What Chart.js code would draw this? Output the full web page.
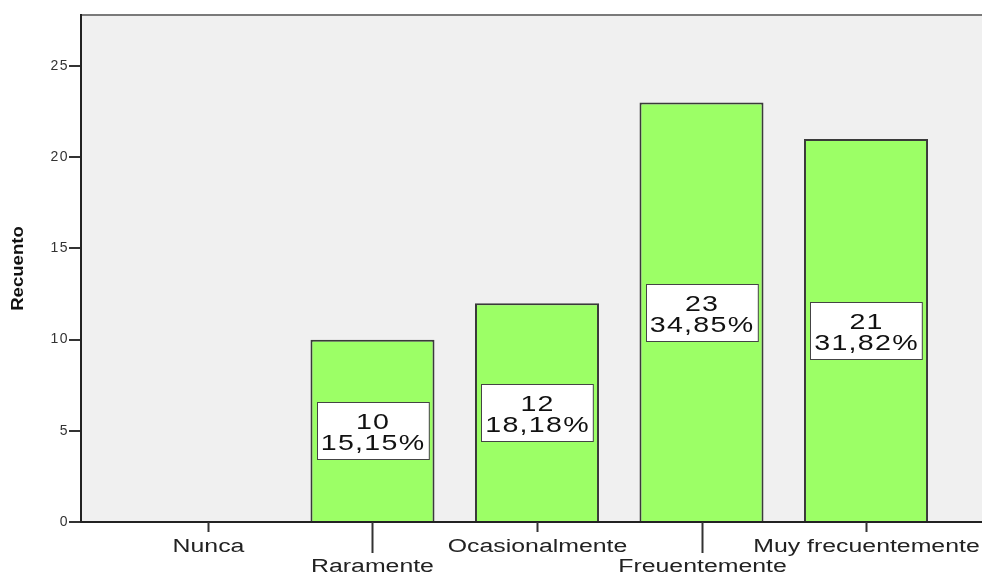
<!DOCTYPE html>
<html>
<head>
<meta charset="utf-8">
<script src="https://cdn.jsdelivr.net/npm/chart.js@4"></script>
<style>
  html, body { margin: 0; padding: 0; background: #fff; overflow: hidden; }
  #wrap { width: 1000px; height: 575px; }
</style>
</head>
<body>
<div id="wrap"><canvas id="myChart" width="1000" height="575"></canvas></div>
<script>
const categories = ['Nunca', 'Raramente', 'Ocasionalmente', 'Freuentemente', 'Muy frecuentemente'];
const counts = [0, 10, 12, 23, 21];
const yTicks = [0, 5, 10, 15, 20, 25];
const yTitle = 'Recuento';

const total = counts.reduce((a, b) => a + b, 0);
const pct = v => (v / total * 100).toFixed(2).replace('.', ',') + '%';
const FONT = '"Liberation Sans", Arial, sans-serif';

// SPSS-ish text: horizontally stretched Arial
function wideText(ctx, text, x, y, sx) {
    ctx.save();
    ctx.translate(x, y);
    ctx.scale(sx, 1);
    ctx.fillText(text, 0, 0);
    ctx.restore();
}

const decor = {
    id: 'decor',
    beforeDraw(chart) {
        const {ctx, chartArea: a} = chart;
        ctx.save();
        ctx.fillStyle = '#f0f0f0';
        ctx.fillRect(a.left, a.top, a.right - a.left, a.bottom - a.top);
        ctx.strokeStyle = '#7a7a7a';
        ctx.lineWidth = 2;
        ctx.beginPath();
        ctx.moveTo(a.left, a.top);
        ctx.lineTo(a.right, a.top);
        ctx.stroke();
        ctx.restore();
        ctx.letterSpacing = '1.5px';
    },
    afterDraw(chart) {
        const {ctx, chartArea: a} = chart;
        const xs = chart.scales.x, ys = chart.scales.y;
        ctx.save();
        ctx.letterSpacing = '0px';

        // x ticks + staggered labels
        ctx.strokeStyle = '#333';
        ctx.lineWidth = 2;
        ctx.fillStyle = '#222';
        ctx.font = '18px ' + FONT;
        ctx.textAlign = 'center';
        ctx.textBaseline = 'alphabetic';
        categories.forEach((c, i) => {
            const x = Math.round(xs.getPixelForValue(i)) + 0.5;
            const low = i % 2 === 1;
            ctx.beginPath();
            ctx.moveTo(x, a.bottom);
            ctx.lineTo(x, a.bottom + (low ? 31 : 10));
            ctx.stroke();
            wideText(ctx, c, x, low ? 572 : 552, 1.38);
        });

        // y title
        ctx.save();
        ctx.translate(19, (a.top + a.bottom) / 2);
        ctx.rotate(-Math.PI / 2);
        ctx.font = 'bold 16px ' + FONT;
        ctx.fillStyle = '#111';
        ctx.textBaseline = 'middle';
        wideText(ctx, yTitle, 0, 0, 1.16);
        ctx.restore();

        // value boxes
        const meta = chart.getDatasetMeta(0);
        ctx.font = '22px ' + FONT;
        ctx.letterSpacing = '1px';
        const sx = 1.3;
        counts.forEach((v, i) => {
            if (!v) return;
            const bar = meta.data[i];
            const cy = ys.getPixelForValue(v / 2);
            const l1 = String(v), l2 = pct(v);
            const w = Math.max(ctx.measureText(l1).width, ctx.measureText(l2).width) * sx + 7;
            const h = 57;
            const bx = Math.round(bar.x - w / 2) + 0.5, by = Math.round(cy - h / 2) + 0.5;
            ctx.fillStyle = '#fff';
            ctx.fillRect(bx, by, w, h);
            ctx.strokeStyle = '#444';
            ctx.lineWidth = 1;
            ctx.strokeRect(bx, by, w, h);
            ctx.fillStyle = '#111';
            wideText(ctx, l1, bar.x + 0.6, cy - 1.5, sx);
            wideText(ctx, l2, bar.x + 0.6, cy + 19.5, sx);
        });
        ctx.restore();
    }
};

const ctx = document.getElementById('myChart').getContext('2d');
new Chart(ctx, {
    type: 'bar',
    data: {
        datasets: [{
            data: counts.map((v, i) => ({x: i, y: v})),
            backgroundColor: '#9cff66',
            borderColor: '#3a3a3a',
            borderWidth: 2,
            categoryPercentage: 1,
            barPercentage: 0.754
        }]
    },
    options: {
        responsive: false,
        animation: false,
        layout: { padding: { top: 15, right: 7, left: 0, bottom: 0 } },
        plugins: { legend: { display: false }, tooltip: { enabled: false } },
        scales: {
            x: {
                type: 'linear',
                offset: false,
                min: -0.772,
                max: 4.772,
                ticks: { display: false },
                afterBuildTicks: s => { s.ticks = categories.map((c, i) => ({value: i})); },
                grid: { display: false },
                border: { display: true, color: '#222', width: 2 },
                afterFit: s => { s.height = 53; }
            },
            y: {
                min: 0,
                max: 27.8,
                ticks: {
                    stepSize: 5,
                    padding: 0,
                    color: '#333',
                    font: { family: FONT, size: 14 }
                },
                afterBuildTicks: s => { s.ticks = yTicks.map(v => ({value: v})); },
                grid: { drawOnChartArea: false, drawTicks: true, tickLength: 12, color: '#333', lineWidth: 2 },
                border: { display: true, color: '#222', width: 2 },
                afterFit: s => { s.width = 81; }
            }
        }
    },
    plugins: [decor]
});
</script>
</body>
</html>
